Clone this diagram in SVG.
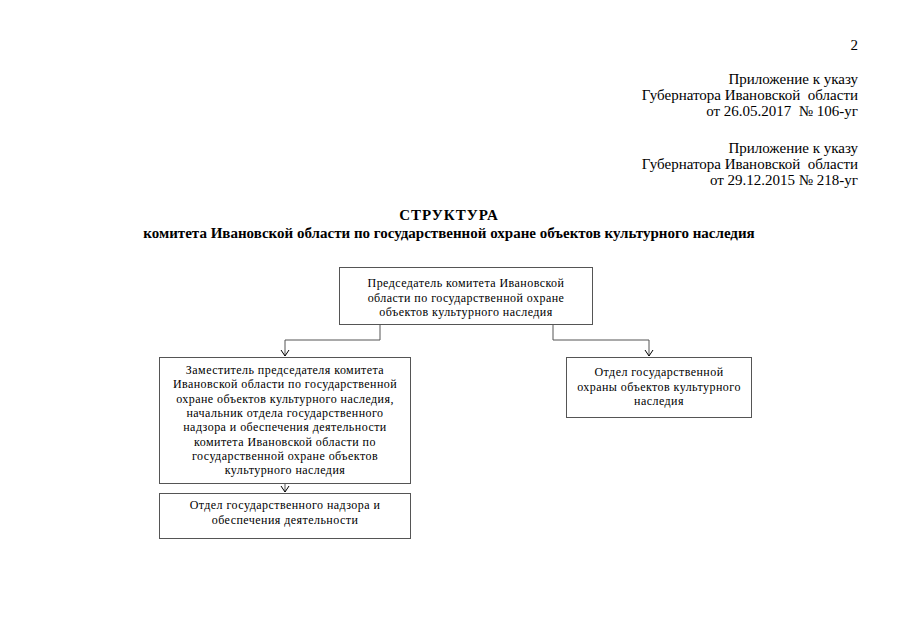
<svg xmlns="http://www.w3.org/2000/svg" width="905" height="640" viewBox="0 0 905 640">
<style>
text{font-family:"Liberation Serif","Times New Roman",serif;fill:#000}
.h{font-size:15px;text-anchor:end}
.t{font-size:15px;font-weight:bold;text-anchor:middle}
.n{font-size:12px;letter-spacing:0.45px;text-anchor:middle}
.box{fill:#fff;stroke:#555;stroke-width:1}
.ln{fill:none;stroke:#555;stroke-width:1}
</style>
<defs>
<marker id="ar" markerWidth="10" markerHeight="10" refX="9" refY="5" orient="auto" markerUnits="userSpaceOnUse" viewBox="0 0 10 10">
<path d="M3,1 L9,5 L3,9" fill="none" stroke="#000" stroke-width="1"/>
</marker>
</defs>
<rect width="905" height="640" fill="#fff"/>
<text x="858" y="50" class="h">2</text>
<text class="h" x="858" y="84">Приложение к указу</text>
<text class="h" x="858" y="100" xml:space="preserve">Губернатора Ивановской  области</text>
<text class="h" x="858" y="116" xml:space="preserve">от 26.05.2017  № 106-уг</text>
<text class="h" x="858" y="153">Приложение к указу</text>
<text class="h" x="858" y="169" xml:space="preserve">Губернатора Ивановской  области</text>
<text class="h" x="858" y="185">от 29.12.2015 № 218-уг</text>
<text class="t" x="449" y="220" letter-spacing="1">СТРУКТУРА</text>
<text class="t" x="449" y="238">комитета Ивановской области по государственной охране объектов культурного наследия</text>
<g id="connectors">
<path class="ln" d="M380,324 V340 H285 V356" marker-end="url(#ar)"/>
<path class="ln" d="M553,324 V340 H649 V356" marker-end="url(#ar)"/>
<path class="ln" d="M285,483 V492" marker-end="url(#ar)"/>
</g>
<g id="chairman">
<rect class="box" x="339.5" y="267.5" width="253" height="57"/>
<text class="n" x="466" y="287">Председатель комитета Ивановской</text>
<text class="n" x="466" y="301.5">области по государственной охране</text>
<text class="n" x="466" y="316">объектов культурного наследия</text>
</g>
<g id="deputy">
<rect class="box" x="159.5" y="357.5" width="251" height="126"/>
<text class="n" x="285" y="374">Заместитель председателя комитета</text>
<text class="n" x="285" y="388.3">Ивановской области по государственной</text>
<text class="n" x="285" y="402.6">охране объектов культурного наследия,</text>
<text class="n" x="285" y="416.9">начальник отдела государственного</text>
<text class="n" x="285" y="431.2">надзора и обеспечения деятельности</text>
<text class="n" x="285" y="445.5">комитета Ивановской области по</text>
<text class="n" x="285" y="459.8">государственной охране объектов</text>
<text class="n" x="285" y="474.1">культурного наследия</text>
</g>
<g id="supervision">
<rect class="box" x="159.5" y="493.5" width="251" height="45"/>
<text class="n" x="285" y="509">Отдел государственного надзора и</text>
<text class="n" x="285" y="523.5">обеспечения деятельности</text>
</g>
<g id="protection">
<rect class="box" x="566.5" y="357.5" width="185" height="60"/>
<text class="n" x="659" y="376">Отдел государственной</text>
<text class="n" x="659" y="390.5">охраны объектов культурного</text>
<text class="n" x="659" y="405">наследия</text>
</g>
</svg>
